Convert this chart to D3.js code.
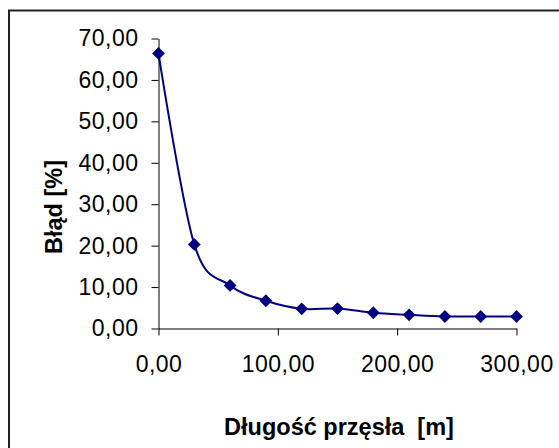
<!DOCTYPE html>
<html>
<head>
<meta charset="utf-8">
<script src="https://cdn.jsdelivr.net/npm/d3@7"></script>
<style>
  body { margin: 0; background: #fff; }
  svg { display: block; font-family: "Liberation Sans", Arial, sans-serif; }
</style>
</head>
<body>
<div id="grafik"></div>
<script>
// dane
const dlugosc = [0, 30, 60, 90, 120, 150, 180, 210, 240, 270, 300];
const blad = [66.4, 20.3, 10.4, 6.7, 4.75, 4.8, 3.8, 3.3, 2.9, 2.9, 2.9];
const xTicks = [0, 100, 200, 300];
const yTicks = [0, 10, 20, 30, 40, 50, 60, 70];
const xTitle = "Długość przęsła  [m]";
const yTitle = "Błąd [%]";

const W = 559, H = 448;
const fmt = d => d3.format(".2f")(d).replace(".", ",");

const svg = d3.select("#grafik")
  .append("svg")
  .attr("width", W)
  .attr("height", H);

// ramka wykresu
svg.append("rect")
  .attr("x", 9)
  .attr("y", 10.5)
  .attr("width", W + 20)
  .attr("height", H + 20)
  .attr("fill", "none")
  .attr("stroke", "#222")
  .attr("stroke-width", 2);

const x = d3.scaleLinear().domain([0, 300]).range([158.5, 516.5]);
const y = d3.scaleLinear().domain([0, 70]).range([328.5, 38.5]);

const xAxis = svg.append("g")
  .attr("transform", `translate(0,${y(0)})`)
  .call(d3.axisBottom(x).tickValues(xTicks).tickFormat(fmt).tickSize(7).tickSizeOuter(0).tickPadding(20));

const yAxis = svg.append("g")
  .attr("transform", `translate(${x(0)},0)`)
  .call(d3.axisLeft(y).tickValues(yTicks).tickFormat(fmt).tickSize(7).tickSizeOuter(0).tickPadding(13));

[xAxis, yAxis].forEach(a => {
  a.selectAll("path, line").attr("stroke", "#000").attr("stroke-width", 1);
  a.selectAll("text")
    .attr("fill", "#000")
    .style("font-size", "23px")
    .style("letter-spacing", "0.5px")
    .style("font-family", "Liberation Sans, Arial, sans-serif");
});

const line = d3.line()
  .x((d, i) => x(dlugosc[i]))
  .y(d => y(d))
  .curve(d3.curveCatmullRom.alpha(0));

svg.append("path")
  .datum(blad)
  .attr("d", line)
  .attr("fill", "none")
  .attr("stroke", "#000080")
  .attr("stroke-width", 2);

svg.append("g")
  .selectAll("path")
  .data(blad)
  .enter()
  .append("path")
  .attr("d", d3.symbol().type(d3.symbolSquare).size(82))
  .attr("transform", (d, i) => `translate(${x(dlugosc[i])},${y(d)}) rotate(45)`)
  .attr("fill", "#000080");

// tytuły osi
svg.append("text")
  .attr("x", 339)
  .attr("y", 435)
  .attr("text-anchor", "middle")
  .style("font-size", "23.5px")
  .style("font-weight", "bold")
  .style("white-space", "pre")
  .attr("xml:space", "preserve")
  .text(xTitle);

svg.append("text")
  .attr("transform", "translate(62,207) rotate(-90)")
  .attr("text-anchor", "middle")
  .style("font-size", "23.5px")
  .style("font-weight", "bold")
  .text(yTitle);
</script>
</body>
</html>
